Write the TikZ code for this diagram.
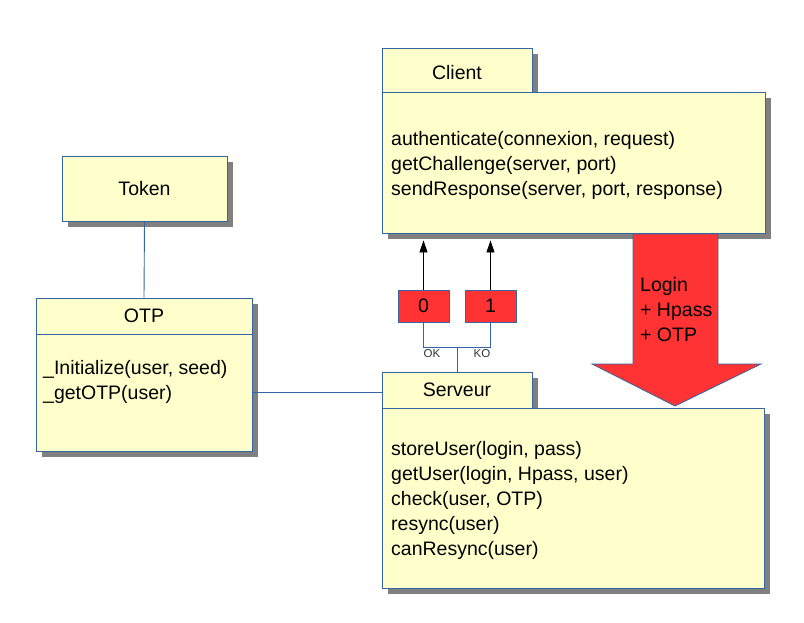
\documentclass[tikz,border=0pt]{standalone}
\usepackage{fontspec}
\setmainfont{Liberation Sans}
\usetikzlibrary{shadows,arrows.meta,calc}
\definecolor{umlblue}{RGB}{52,101,164}
\definecolor{umlfill}{RGB}{255,255,204}
\definecolor{shgray}{RGB}{128,128,128}
\definecolor{redbox}{RGB}{255,51,51}
\begin{document}
\begin{tikzpicture}[x=1pt,y=-1pt,
  box/.style={draw=umlblue, fill=umlfill, line width=0.9pt, inner sep=0pt,
    general shadow={fill=shgray, shadow xshift=6pt, shadow yshift=-6pt},
    font=\fontsize{19.5}{25}\selectfont},
  txt/.style={anchor=west, align=left, inner sep=0pt, font=\fontsize{19.5}{25}\selectfont},
  ttl/.style={inner sep=0pt, font=\fontsize{19.5}{25}\selectfont},
  flag/.style={draw=umlblue, fill=redbox, line width=0.9pt, inner sep=0pt,
    minimum width=51pt, minimum height=32pt, font=\fontsize{19.5}{25}\selectfont},
  link/.style={draw=umlblue, line width=0.9pt},
  ret/.style={draw=black, line width=0.9pt, -{Triangle[length=12pt,width=8pt]}},
  small/.style={inner sep=0pt, font=\fontsize{11.5}{13}\selectfont, text=black!80}
]
\useasboundingbox (0,0) rectangle (804,622);

% Client
\node[box, minimum width=150pt, minimum height=44pt] (ctitle) at (457,70) {};
\node[ttl] (clabel) at (457,73) {Client};
\node[box, minimum width=383pt, minimum height=141pt] (cbody) at (573.5,162.5) {};
\node[txt] (ctext) at (391,165.5) {authenticate(connexion, request)\\getChallenge(server, port)\\sendResponse(server, port, response)};

% Token
\node[box, minimum width=165pt, minimum height=65pt] (token) at (144.5,188.5) {Token};

% OTP
\node[box, minimum width=216pt, minimum height=36pt] (otitle) at (144,316) {OTP};
\node[box, minimum width=216pt, minimum height=117pt] (obody) at (144,392.5) {};
\node[txt] (otext) at (43,381.5) {\_Initialize(user, seed)\\\_getOTP(user)};

% Serveur
\node[box, minimum width=150pt, minimum height=36pt] (stitle) at (457,390) {Serveur};
\node[box, minimum width=382pt, minimum height=180pt] (sbody) at (573,498) {};
\node[txt] (stext) at (391,500) {storeUser(login, pass)\\getUser(login, Hpass, user)\\check(user, OTP)\\resync(user)\\canResync(user)};

% Big arrow
\draw[draw=umlblue, fill=redbox, line width=0.8pt]
  (633,234) -- (718,234) -- (718,364) -- (761,364) -- (675,406) -- (592,364) -- (633,364) -- cycle;
\node[txt] (msg) at (640,310) {Login\\+ Hpass\\+ OTP};

% Return flags
\node[flag] (zero) at (423.5,306) {0};
\node[flag] (one) at (490.5,306) {1};
\draw[ret] (zero.north) -- ($(zero.north |- cbody.south)+(0,7)$);
\draw[ret] (one.north) -- ($(one.north |- cbody.south)+(0,7)$);
\draw[link] (zero.south) -- ++(0,25) -| (one.south);
\draw[link] (stitle.north) -- (stitle.north |- 0,347);
\node[small] (ok) at (432,354) {OK};
\node[small] (ko) at (482,354) {KO};

% Associations
\draw[link] (token.south) -- (otitle.north);
\draw[link] (obody.east) -- (stitle.west |- obody.east);
\end{tikzpicture}
\end{document}
